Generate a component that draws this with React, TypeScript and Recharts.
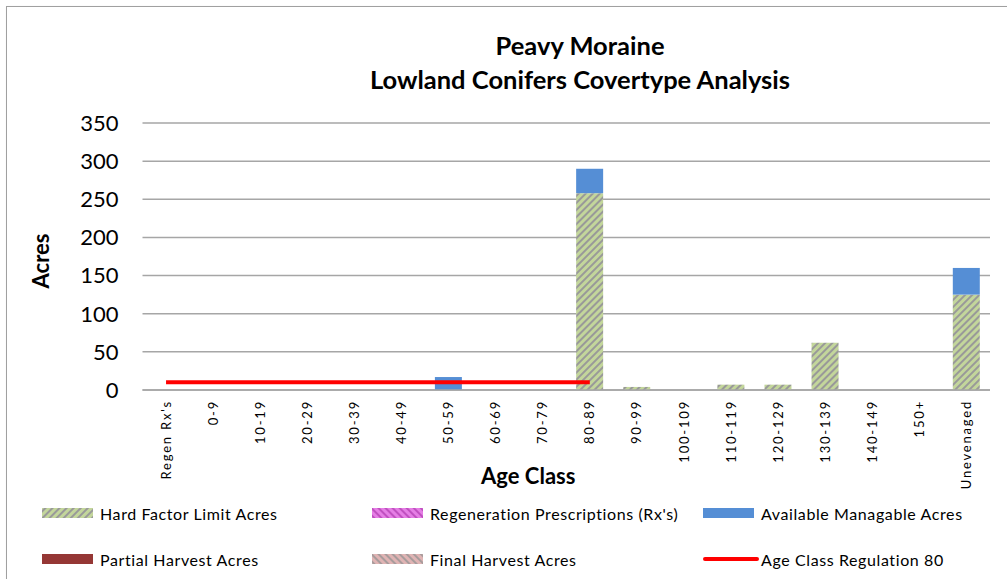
/* ── Peavy Moraine: Lowland Conifers Covertype Analysis ── */

import { ComposedChart, Bar, Line, XAxis, YAxis, CartesianGrid } from "recharts";

const ageClasses = [
  "Regen Rx's", "0-9", "10-19", "20-29", "30-39", "40-49", "50-59", "60-69", "70-79",
  "80-89", "90-99", "100-109", "110-119", "120-129", "130-139", "140-149", "150+", "Unevenaged",
];
const hardFactorAcres = [0, 0, 0, 0, 0, 0, 0, 0, 0, 258, 4, 0, 7, 7, 62, 0, 0, 125];
const regenRxAcres = [0, 0, 0, 0, 0, 0, 0, 0, 0, 0, 0, 0, 0, 0, 0, 0, 0, 0];
const availableAcres = [0, 0, 0, 0, 0, 0, 17, 0, 0, 32, 0, 0, 0, 0, 0, 0, 0, 35];
const partialHarvestAcres = [0, 0, 0, 0, 0, 0, 0, 0, 0, 0, 0, 0, 0, 0, 0, 0, 0, 0];
const finalHarvestAcres = [0, 0, 0, 0, 0, 0, 0, 0, 0, 0, 0, 0, 0, 0, 0, 0, 0, 0];
const regulation80 = [10, 10, 10, 10, 10, 10, 10, 10, 10, 10, null, null, null, null, null, null, null, null];
const yTicks = [0, 50, 100, 150, 200, 250, 300, 350];

const FONT = "Lato, 'Liberation Sans', sans-serif";

const data = ageClasses.map((name, i) => ({
  name,
  hard: hardFactorAcres[i],
  regen: regenRxAcres[i],
  available: availableAcres[i],
  partial: partialHarvestAcres[i],
  final: finalHarvestAcres[i],
  regulation: regulation80[i],
}));

const legendItems = [
  { label: "Hard Factor Limit Acres", fill: "url(#hardPat)", kind: "box" },
  { label: "Regeneration Prescriptions (Rx's)", fill: "url(#regenPat)", kind: "box" },
  { label: "Available Managable Acres", fill: "#558ed5", kind: "box" },
  { label: "Partial Harvest Acres", fill: "#953735", kind: "box" },
  { label: "Final Harvest Acres", fill: "url(#finalPat)", kind: "box" },
  { label: "Age Class Regulation 80", fill: "#ff0000", kind: "line" },
];
const legendCols = [42, 372, 703];
const legendRows = [513, 559];

function Stripes({ id, bg, stripe, angle }: { id: string; bg: string; stripe: string; angle: number }) {
  return (
    <pattern id={id} patternUnits="userSpaceOnUse" width={5} height={5} patternTransform={`rotate(${angle})`}>
      <rect width={5} height={5} fill={bg} />
      <rect x={0} y={0} width={2} height={5} fill={stripe} />
    </pattern>
  );
}

function AgeTick({ x, y, payload }: any) {
  return (
    <text
      x={x}
      y={y + 2}
      transform={`rotate(-90, ${x}, ${y + 2})`}
      textAnchor="end"
      dy="0.35em"
      fontSize={13}
      letterSpacing={1.8}
      fontFamily={FONT}
      fill="#000"
    >
      {payload.value}
    </text>
  );
}

export default function App() {
  return (
    <div style={{ position: "absolute", left: 0, top: 0, width: 1007, height: 579, overflow: "hidden", background: "#fff", fontFamily: FONT }}>
      <svg width={0} height={0} style={{ position: "absolute" }}>
        <defs>
          <Stripes id="hardPat" bg="#c3d69b" stripe="#999999" angle={45} />
          <Stripes id="regenPat" bg="#e57ee5" stripe="#c050c0" angle={-45} />
          <Stripes id="finalPat" bg="#e0b4b4" stripe="#a89c9c" angle={-45} />
        </defs>
      </svg>

      {/* frame */}
      <div style={{ position: "absolute", left: 6, top: 6, width: 1020, height: 600, border: "1.5px solid #a0a0a0", boxShadow: "1px 1px 2px #ccc" }} />

      {/* title */}
      <div style={{ position: "absolute", left: 330, width: 500, top: 28, textAlign: "center", fontSize: 25.5, fontWeight: 700, lineHeight: "34px", color: "#000" }}>
        <div>Peavy Moraine</div>
        <div style={{ whiteSpace: "nowrap" }}>Lowland Conifers Covertype Analysis</div>
      </div>

      {/* y axis title */}
      <div style={{ position: "absolute", left: 40, top: 261, transform: "translate(-50%, -50%) rotate(-90deg)", fontSize: 22, fontWeight: 700, color: "#000", whiteSpace: "nowrap" }}>
        Acres
      </div>

      <div style={{ position: "absolute", left: 0, top: 0 }}>
        <ComposedChart
          width={1007}
          height={500}
          data={data}
          margin={{ top: 123, right: 17, bottom: 0, left: 0 }}
          barCategoryGap="21%"
        >
          <CartesianGrid vertical={false} stroke="#a6a6a6" strokeWidth={1.5} />
          <XAxis
            dataKey="name"
            interval={0}
            height={110}
            tick={<AgeTick />}
            tickLine={false}
            axisLine={{ stroke: "#a6a6a6", strokeWidth: 1.5 }}
            label={{ value: "Age Class", position: "insideBottom", offset: 16, fontSize: 22, fontWeight: 700, fill: "#000", fontFamily: FONT, dx: -38 }}
          />
          <YAxis
            domain={[0, 350]}
            ticks={yTicks}
            width={142.5}
            tickLine={false}
            axisLine={false}
            tickSize={0}
            tickMargin={24}
            tick={{ fontSize: 22, fill: "#000", fontFamily: FONT }}
          />
          <Bar dataKey="hard" stackId="a" fill="url(#hardPat)" isAnimationActive={false} />
          <Bar dataKey="regen" stackId="a" fill="url(#regenPat)" isAnimationActive={false} />
          <Bar dataKey="available" stackId="a" fill="#558ed5" isAnimationActive={false} />
          <Bar dataKey="partial" stackId="a" fill="#953735" isAnimationActive={false} />
          <Bar dataKey="final" stackId="a" fill="url(#finalPat)" isAnimationActive={false} />
          <Line
            dataKey="regulation"
            stroke="#ff0000"
            strokeWidth={4}
            dot={false}
            activeDot={false}
            connectNulls={false}
            isAnimationActive={false}
          />
        </ComposedChart>
      </div>

      {/* legend */}
      {legendItems.map((item, i) => {
        const left = legendCols[i % 3];
        const top = legendRows[Math.floor(i / 3)];
        return (
          <div key={item.label} style={{ position: "absolute", left, top: top - 10, height: 20, display: "flex", alignItems: "center", fontSize: 16, letterSpacing: 0.6, color: "#000", whiteSpace: "nowrap" }}>
            <svg width={56} height={20} style={{ marginRight: 2 }}>
              {item.kind === "line" ? (
                <line x1={2} x2={54} y1={10} y2={10} stroke={item.fill} strokeWidth={4} strokeLinecap="round" />
              ) : (
                <rect x={0} y={5} width={51} height={10} fill={item.fill} />
              )}
            </svg>
            <span>{item.label}</span>
          </div>
        );
      })}
    </div>
  );
}
